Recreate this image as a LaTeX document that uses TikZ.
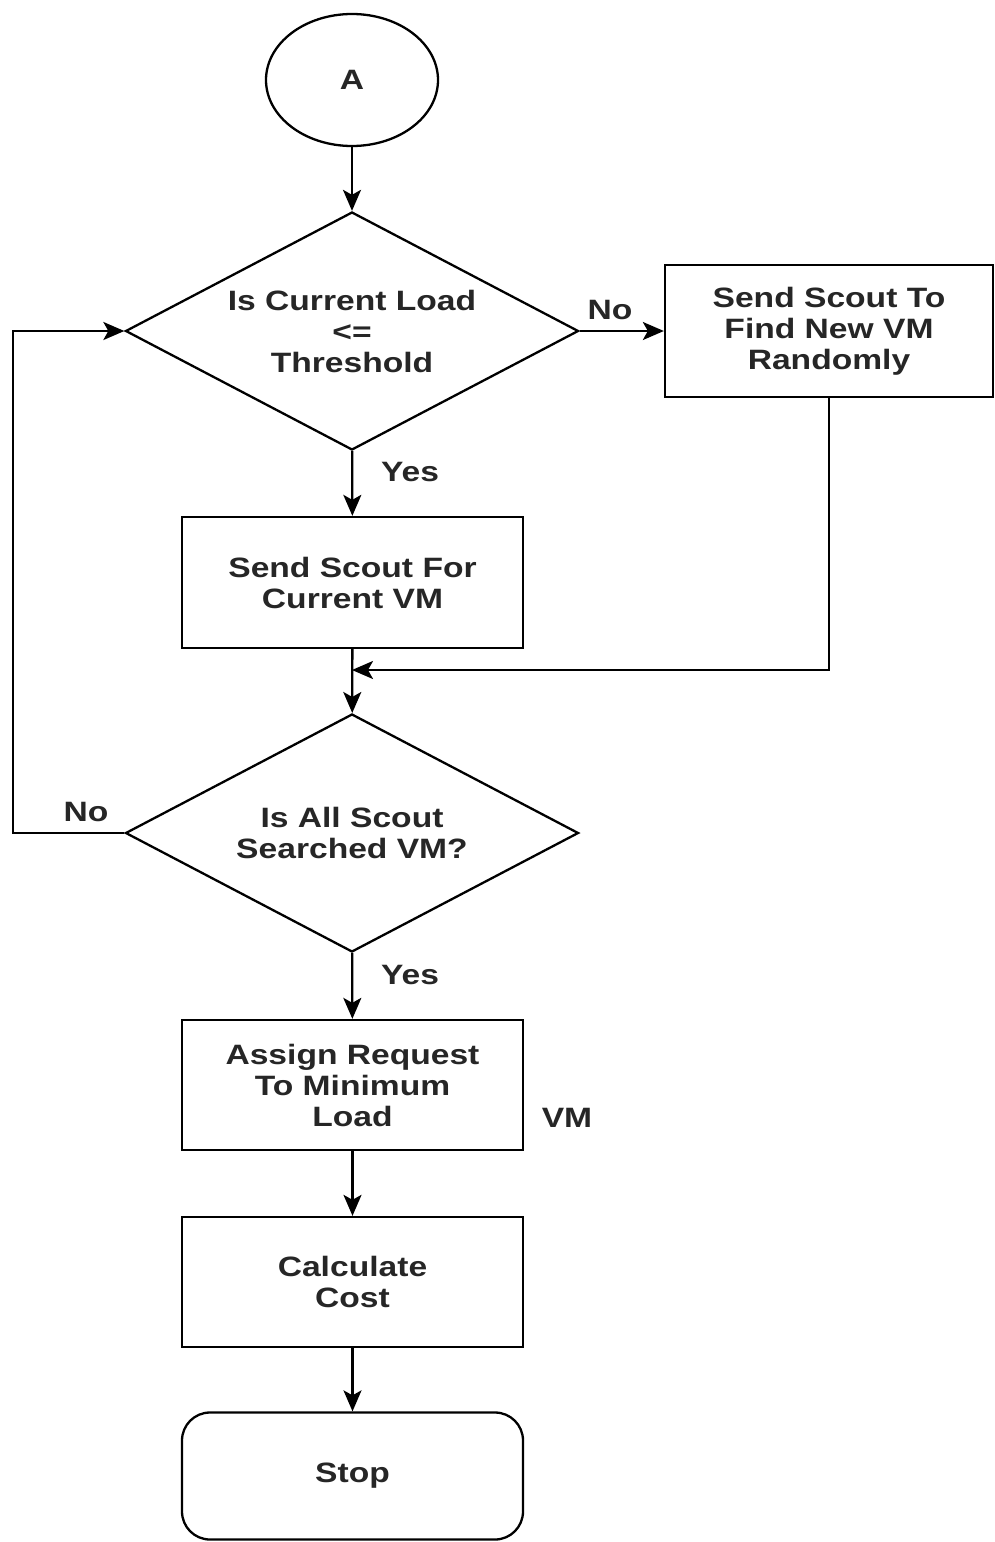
\documentclass[tikz,border=0pt]{standalone}
\usepackage{fontspec}
\setmainfont[FakeStretch=1.2]{Liberation Sans}
\usetikzlibrary{shapes.geometric,arrows.meta}
\begin{document}
\begin{tikzpicture}[x=1pt,y=-1pt,
  every node/.style={font=\fontsize{28}{31}\selectfont\bfseries, text=black!85},
  proc/.style={draw, line width=2.3pt, minimum width=341pt, minimum height=131pt, align=center, inner sep=0pt},
  dec/.style={diamond, draw, line width=2.3pt, shape aspect=1.9, minimum width=453pt, minimum height=238pt, align=center, inner sep=0pt},
  conn/.style={line width=2.3pt, -{Stealth[length=21pt,width=18pt,inset=5pt]}}]
\useasboundingbox (0,0) rectangle (995,1542);
\node[ellipse, draw, line width=2.3pt, minimum width=172pt, minimum height=132pt] (A) at (352,80) {A};
\node[dec] (d1) at (352,331) {Is Current Load\\<=\\Threshold};
\node[proc, minimum width=328pt, minimum height=132pt] (rnd) at (829,331) {Send Scout To\\Find New VM\\Randomly};
\node[proc] (cur) at (352.5,582.5) {Send Scout For\\Current VM};
\node[dec] (d2) at (352,833) {Is All Scout\\Searched VM?};
\node[proc, minimum height=130pt] (assign) at (352.5,1085) {Assign Request\\To Minimum\\Load};
\node[proc, minimum height=130pt] (cost) at (352.5,1282) {Calculate\\Cost};
\node[proc, rounded corners=28pt, minimum height=127pt] (stop) at (352.5,1476) {Stop};
\coordinate (m) at (352,670);
\coordinate (lb) at (13,833);
\coordinate (lt) at (13,331);
\draw[conn] (A) -- (d1);
\draw[conn] (d1.east) -- (rnd.west);
\draw[conn] (d1) -- (cur);
\draw[conn] (cur) -- (d2);
\draw[conn] (rnd.south) |- (m);
\draw[conn] (d2.west) -- (lb) -- (lt) -- (d1.west);
\draw[conn] (d2) -- (assign);
\draw[conn] (assign) -- (cost);
\draw[conn] (cost) -- (stop);
\node (no1) at (610,310) {No};
\node (yes1) at (410,472) {Yes};
\node (no2) at (86,812) {No};
\node (yes2) at (410,975) {Yes};
\node (vm) at (567,1118) {VM};
\end{tikzpicture}
\end{document}
